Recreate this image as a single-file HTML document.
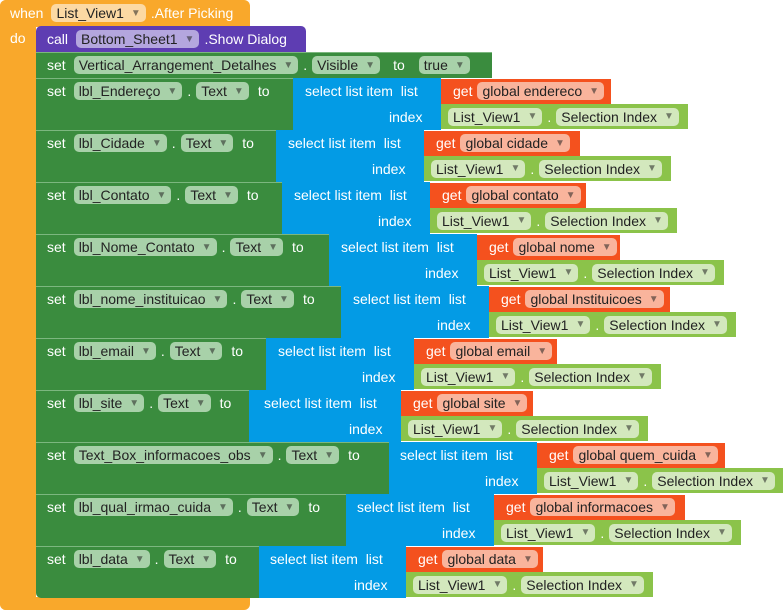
<!DOCTYPE html>
<html><head><meta charset="utf-8"><style>
*{margin:0;padding:0;box-sizing:border-box}
body{width:783px;height:610px;background:#fff;position:relative;overflow:hidden;font-family:"Liberation Sans",Arial,sans-serif;font-size:14px;color:#fff}
.a{position:absolute}
.or{background:#f9a82b}
.pu{background:#5e3db2}
.gr{background:#3a8c3e;border-top:1px solid #7cb77f}
.bl{background:#039be5}
.rd{background:#f4511e}
.lg{background:#8bc34a}
.row{position:absolute;display:flex;align-items:center;height:20px;white-space:nowrap}
.lgr{position:absolute;display:flex;align-items:center;height:25px;white-space:nowrap;background:#8bc34a;padding:0 4px 0 2px;color:#fff}
.p{display:inline-flex;align-items:center;height:18px;border-radius:5px;padding:0 5px 0 5px;color:#222;margin:0 5px}
.p i{font-style:normal;font-size:10px;margin-left:7px;opacity:.55}
.pg{background:#a8d1a9}
.pp{background:#b4a6de}
.po{background:#fcd9a3}
.pr{background:#f9b49c}
.pl{background:#d3e8bd}
.pt{background:#a8d1a9}
</style></head><body>
<div class="a or" style="left:0;top:0;width:250px;height:27px;border-radius:6px 6px 0 0"></div>
<div class="a or" style="left:0;top:0;width:36px;height:610px;border-radius:6px 0 0 6px"></div>
<div class="a or" style="left:0;top:597px;width:250px;height:13px;border-radius:0 0 6px 6px"></div>
<div class="row" style="left:10px;top:3px">when<span class="p po" style="margin-left:8px">List_View1<i>▼</i></span>.After Picking</div>
<div class="row" style="left:10px;top:28px">do</div>
<div class="a pu" style="left:36px;top:26px;width:270px;height:26px;border-radius:5px 5px 0 0"></div>
<div class="row" style="left:47px;top:29px">call<span class="p pp" style="margin-left:8px">Bottom_Sheet1<i>▼</i></span>.Show Dialog</div>
<div class="a gr" style="left:36px;top:52px;width:456px;height:26px"></div>
<div class="row" style="left:47px;top:55px">set<span class="p pg" style="margin-left:8px">Vertical_Arrangement_Detalhes<i>▼</i></span>.<span class="p pg">Visible<i>▼</i></span><span style="margin:0 8px">to</span><span class="p pt" style="margin-left:6px">true<i>▼</i></span></div>

<div class="a gr" style="left:36px;top:78px;width:260px;height:52px"></div>
<div class="a bl" style="left:293px;top:78px;width:148px;height:52px"></div>
<div class="a rd" style="left:441px;top:79px;width:170px;height:25px"></div>
<div class="row" style="left:47px;top:81px">set<span class="p pg" style="margin-left:8px">lbl_Endereço<i>▼</i></span>.<span class="p pg">Text<i>▼</i></span><span style="margin-left:4px">to</span></div>
<div class="row" style="left:305px;top:81px">select list item&nbsp; list</div>
<div class="row" style="left:389px;top:107px">index</div>
<div class="row" style="left:453px;top:81px">get<span class="p pr">global endereco<i>▼</i></span></div>
<div class="lgr" style="left:441px;top:104px"><span class="p pl">List_View1<i>▼</i></span>.<span class="p pl">Selection Index<i>▼</i></span></div>

<div class="a gr" style="left:36px;top:130px;width:243px;height:52px"></div>
<div class="a bl" style="left:276px;top:130px;width:148px;height:52px"></div>
<div class="a rd" style="left:424px;top:131px;width:156px;height:25px"></div>
<div class="row" style="left:47px;top:133px">set<span class="p pg" style="margin-left:8px">lbl_Cidade<i>▼</i></span>.<span class="p pg">Text<i>▼</i></span><span style="margin-left:4px">to</span></div>
<div class="row" style="left:288px;top:133px">select list item&nbsp; list</div>
<div class="row" style="left:372px;top:159px">index</div>
<div class="row" style="left:436px;top:133px">get<span class="p pr">global cidade<i>▼</i></span></div>
<div class="lgr" style="left:424px;top:156px"><span class="p pl">List_View1<i>▼</i></span>.<span class="p pl">Selection Index<i>▼</i></span></div>

<div class="a gr" style="left:36px;top:182px;width:249px;height:52px"></div>
<div class="a bl" style="left:282px;top:182px;width:148px;height:52px"></div>
<div class="a rd" style="left:430px;top:183px;width:156px;height:25px"></div>
<div class="row" style="left:47px;top:185px">set<span class="p pg" style="margin-left:8px">lbl_Contato<i>▼</i></span>.<span class="p pg">Text<i>▼</i></span><span style="margin-left:4px">to</span></div>
<div class="row" style="left:294px;top:185px">select list item&nbsp; list</div>
<div class="row" style="left:378px;top:211px">index</div>
<div class="row" style="left:442px;top:185px">get<span class="p pr">global contato<i>▼</i></span></div>
<div class="lgr" style="left:430px;top:208px"><span class="p pl">List_View1<i>▼</i></span>.<span class="p pl">Selection Index<i>▼</i></span></div>

<div class="a gr" style="left:36px;top:234px;width:296px;height:52px"></div>
<div class="a bl" style="left:329px;top:234px;width:148px;height:52px"></div>
<div class="a rd" style="left:477px;top:235px;width:143px;height:25px"></div>
<div class="row" style="left:47px;top:237px">set<span class="p pg" style="margin-left:8px">lbl_Nome_Contato<i>▼</i></span>.<span class="p pg">Text<i>▼</i></span><span style="margin-left:4px">to</span></div>
<div class="row" style="left:341px;top:237px">select list item&nbsp; list</div>
<div class="row" style="left:425px;top:263px">index</div>
<div class="row" style="left:489px;top:237px">get<span class="p pr">global nome<i>▼</i></span></div>
<div class="lgr" style="left:477px;top:260px"><span class="p pl">List_View1<i>▼</i></span>.<span class="p pl">Selection Index<i>▼</i></span></div>

<div class="a gr" style="left:36px;top:286px;width:308px;height:52px"></div>
<div class="a bl" style="left:341px;top:286px;width:148px;height:52px"></div>
<div class="a rd" style="left:489px;top:287px;width:181px;height:25px"></div>
<div class="row" style="left:47px;top:289px">set<span class="p pg" style="margin-left:8px">lbl_nome_instituicao<i>▼</i></span>.<span class="p pg">Text<i>▼</i></span><span style="margin-left:4px">to</span></div>
<div class="row" style="left:353px;top:289px">select list item&nbsp; list</div>
<div class="row" style="left:437px;top:315px">index</div>
<div class="row" style="left:501px;top:289px">get<span class="p pr">global Instituicoes<i>▼</i></span></div>
<div class="lgr" style="left:489px;top:312px"><span class="p pl">List_View1<i>▼</i></span>.<span class="p pl">Selection Index<i>▼</i></span></div>

<div class="a gr" style="left:36px;top:338px;width:233px;height:52px"></div>
<div class="a bl" style="left:266px;top:338px;width:148px;height:52px"></div>
<div class="a rd" style="left:414px;top:339px;width:143px;height:25px"></div>
<div class="row" style="left:47px;top:341px">set<span class="p pg" style="margin-left:8px">lbl_email<i>▼</i></span>.<span class="p pg">Text<i>▼</i></span><span style="margin-left:4px">to</span></div>
<div class="row" style="left:278px;top:341px">select list item&nbsp; list</div>
<div class="row" style="left:362px;top:367px">index</div>
<div class="row" style="left:426px;top:341px">get<span class="p pr">global email<i>▼</i></span></div>
<div class="lgr" style="left:414px;top:364px"><span class="p pl">List_View1<i>▼</i></span>.<span class="p pl">Selection Index<i>▼</i></span></div>

<div class="a gr" style="left:36px;top:390px;width:216px;height:52px"></div>
<div class="a bl" style="left:249px;top:390px;width:152px;height:52px"></div>
<div class="a rd" style="left:401px;top:391px;width:132px;height:25px"></div>
<div class="row" style="left:47px;top:393px">set<span class="p pg" style="margin-left:8px">lbl_site<i>▼</i></span>.<span class="p pg">Text<i>▼</i></span><span style="margin-left:4px">to</span></div>
<div class="row" style="left:264px;top:393px">select list item&nbsp; list</div>
<div class="row" style="left:349px;top:419px">index</div>
<div class="row" style="left:413px;top:393px">get<span class="p pr">global site<i>▼</i></span></div>
<div class="lgr" style="left:401px;top:416px"><span class="p pl">List_View1<i>▼</i></span>.<span class="p pl">Selection Index<i>▼</i></span></div>

<div class="a gr" style="left:36px;top:442px;width:356px;height:52px"></div>
<div class="a bl" style="left:389px;top:442px;width:148px;height:52px"></div>
<div class="a rd" style="left:537px;top:443px;width:188px;height:25px"></div>
<div class="row" style="left:47px;top:445px">set<span class="p pg" style="margin-left:8px">Text_Box_informacoes_obs<i>▼</i></span>.<span class="p pg">Text<i>▼</i></span><span style="margin-left:4px">to</span></div>
<div class="row" style="left:400px;top:445px">select list item&nbsp; list</div>
<div class="row" style="left:485px;top:471px">index</div>
<div class="row" style="left:549px;top:445px">get<span class="p pr">global quem_cuida<i>▼</i></span></div>
<div class="lgr" style="left:537px;top:468px"><span class="p pl">List_View1<i>▼</i></span>.<span class="p pl">Selection Index<i>▼</i></span></div>

<div class="a gr" style="left:36px;top:494px;width:313px;height:52px"></div>
<div class="a bl" style="left:346px;top:494px;width:148px;height:52px"></div>
<div class="a rd" style="left:494px;top:495px;width:191px;height:25px"></div>
<div class="row" style="left:47px;top:497px">set<span class="p pg" style="margin-left:8px">lbl_qual_irmao_cuida<i>▼</i></span>.<span class="p pg">Text<i>▼</i></span><span style="margin-left:4px">to</span></div>
<div class="row" style="left:357px;top:497px">select list item&nbsp; list</div>
<div class="row" style="left:442px;top:523px">index</div>
<div class="row" style="left:506px;top:497px">get<span class="p pr">global informacoes<i>▼</i></span></div>
<div class="lgr" style="left:494px;top:520px"><span class="p pl">List_View1<i>▼</i></span>.<span class="p pl">Selection Index<i>▼</i></span></div>

<div class="a gr" style="left:36px;top:546px;width:226px;height:52px;border-radius:0 0 0 5px"></div>
<div class="a bl" style="left:259px;top:546px;width:147px;height:52px"></div>
<div class="a rd" style="left:406px;top:547px;width:137px;height:25px"></div>
<div class="row" style="left:47px;top:549px">set<span class="p pg" style="margin-left:8px">lbl_data<i>▼</i></span>.<span class="p pg">Text<i>▼</i></span><span style="margin-left:4px">to</span></div>
<div class="row" style="left:270px;top:549px">select list item&nbsp; list</div>
<div class="row" style="left:354px;top:575px">index</div>
<div class="row" style="left:418px;top:549px">get<span class="p pr">global data<i>▼</i></span></div>
<div class="lgr" style="left:406px;top:572px"><span class="p pl">List_View1<i>▼</i></span>.<span class="p pl">Selection Index<i>▼</i></span></div>
</body></html>
